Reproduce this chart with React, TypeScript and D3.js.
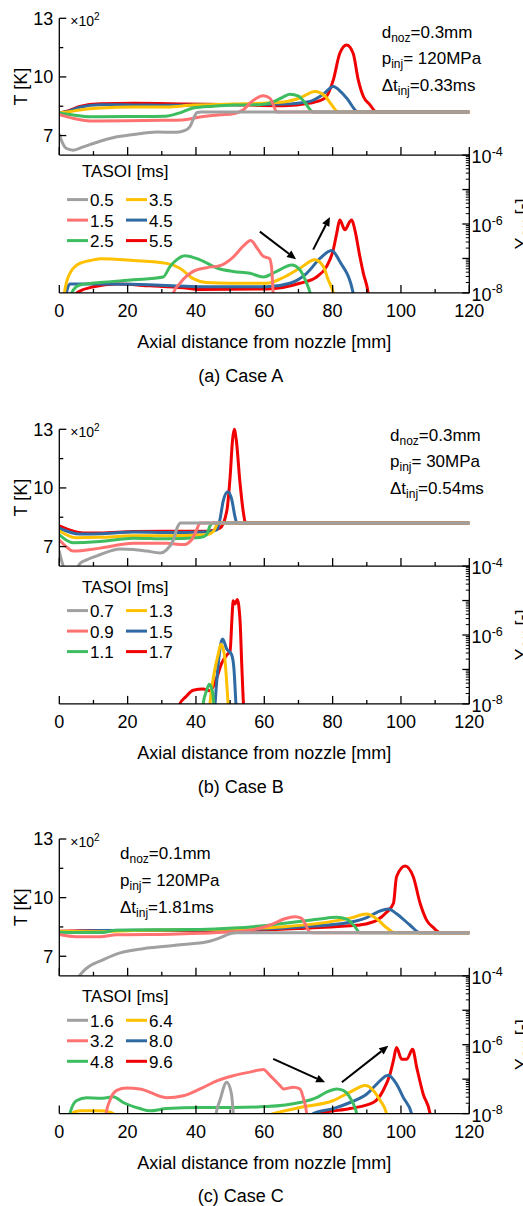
import React from 'react';
import * as d3 from 'd3';

type Pt = [number, number];

// ---------- legend categories & colours ----------
const seriesColors = ['#a0a0a0', '#ff7272', '#3dbd60', '#ffc000', '#2f6aa3', '#f00000'];
const tasoiA = ['0.5', '1.5', '2.5', '3.5', '4.5', '5.5'];
const tasoiB = ['0.7', '0.9', '1.1', '1.3', '1.5', '1.7'];
const tasoiC = ['1.6', '3.2', '4.8', '6.4', '8.0', '9.6'];

// tick labels
const tTickLabels = [700, 1000, 1300];
const xTickLabels = [0, 20, 40, 60, 80, 100, 120];
const yTickExps = [-4, -6, -8];

// ---------- Case A : temperature [K] vs axial distance [mm] ----------
const A_T_05: Pt[] = [[0, 705], [1, 660], [2, 635], [4.1, 625], [7, 642], [11.9, 671], [16, 690], [21.7, 705], [28.5, 718], [34.3, 717], [36.8, 726], [38.3, 748], [39.5, 795], [40.3, 818], [41.5, 820], [120, 820]];
const A_T_15: Pt[] = [[0, 807], [4, 788], [9, 775], [20, 776], [30, 778], [36, 780], [41.2, 795], [47, 806], [50.9, 812], [53.9, 832], [55.8, 866], [59.7, 904], [61.7, 890], [62.7, 855], [63.6, 820], [120, 820]];
const A_T_25: Pt[] = [[0, 815], [4, 805], [9, 796], [20, 797], [31, 799], [35, 815], [39.2, 841], [45, 850], [51, 856], [58.7, 858], [62.6, 872], [65.6, 898], [67.5, 911], [70, 902], [72, 866], [74.3, 820], [120, 820]];
const A_T_35: Pt[] = [[0, 815], [3, 822], [6, 831], [11.9, 841], [21.7, 846], [31.4, 846], [39.2, 856], [50.9, 861], [65.6, 872], [70.4, 892], [74.8, 926], [77.8, 902], [79.6, 860], [81.7, 820], [120, 820]];
const A_T_45: Pt[] = [[0, 815], [3, 826], [6, 845], [11.9, 858], [21.7, 857], [31.4, 855], [41.2, 856], [50.9, 858], [65.6, 861], [73.4, 875], [77.3, 912], [80.2, 951], [82.5, 922], [84.1, 892], [87.5, 820], [120, 820]];
const A_T_55: Pt[] = [[0, 815], [3, 829], [6, 849], [11.9, 863], [21.7, 865], [36.3, 862], [50.9, 858], [65.6, 853], [73.4, 866], [77.8, 892], [80.2, 985], [82.1, 1121], [84.1, 1164], [86.0, 1121], [87.5, 985], [89.0, 900], [90.9, 858], [92.9, 820], [120, 820]];

// ---------- Case A : mass fraction [-] ----------
const A_Y_05: Pt[] = [];
const A_Y_15: Pt[] = [[33.0, 5e-9], [33.4, 1e-8], [35.3, 1.9e-8], [39.2, 4.2e-8], [43.1, 5.4e-8], [47.0, 6.2e-8], [50.9, 1.1e-7], [53.9, 2.3e-7], [56.0, 3.3e-7], [58.2, 1.8e-7], [59.7, 1.15e-7], [61.5, 1.0e-7], [62.1, 5.8e-8], [62.6, 1e-8], [62.8, 5e-9]];
const A_Y_25: Pt[] = [[3.2, 5e-9], [3.6, 1e-8], [6.0, 1.7e-8], [11.9, 2.0e-8], [21.7, 2.4e-8], [30.4, 2.9e-8], [32.4, 5.8e-8], [34.3, 9.1e-8], [36.8, 1.2e-7], [41.2, 9.1e-8], [46.3, 5.2e-8], [50.9, 4.2e-8], [55.8, 3.7e-8], [59.7, 2.9e-8], [63.6, 4.2e-8], [68.0, 6.5e-8], [70.4, 4.7e-8], [72.4, 1.9e-8], [73.4, 1e-8], [74.0, 5e-9]];
const A_Y_35: Pt[] = [[1.2, 5e-9], [1.5, 1e-8], [3.1, 3.7e-8], [6.0, 7.2e-8], [10.0, 9.1e-8], [12.0, 9.8e-8], [21.7, 8.7e-8], [31.4, 7.2e-8], [35.3, 5.2e-8], [39.2, 2.6e-8], [43.0, 2.0e-8], [50.0, 1.9e-8], [60.7, 1.9e-8], [65.6, 2.8e-8], [70.4, 5.2e-8], [74.8, 9.1e-8], [77.3, 5.8e-8], [78.7, 2.4e-8], [80.2, 1e-8], [80.8, 5e-9]];
const A_Y_45: Pt[] = [[1.9, 5e-9], [2.1, 1e-8], [3.1, 1.8e-8], [11.9, 1.8e-8], [31.4, 1.65e-8], [41.2, 1.5e-8], [60.7, 1.5e-8], [67.5, 1.9e-8], [72.4, 3.7e-8], [76.3, 1.0e-7], [79.7, 1.7e-7], [82.1, 8.1e-8], [86.0, 1e-8], [86.4, 5e-9]];
const A_Y_55: Pt[] = [[4.5, 5e-9], [5.1, 1e-8], [10.0, 1.5e-8], [16.8, 1.8e-8], [26.5, 1.6e-8], [36.3, 1.4e-8], [41.2, 1.25e-8], [60.7, 1.3e-8], [70.4, 1.9e-8], [75.3, 2.9e-8], [78.2, 5.8e-8], [80.2, 1.8e-7], [81.2, 5.4e-7], [82.1, 1.3e-6], [83.6, 6.8e-7], [85.1, 1.2e-6], [85.6, 1.3e-6], [86.5, 6.8e-7], [88.0, 1.1e-7], [89.0, 3.7e-8], [90.4, 1e-8], [90.8, 5e-9]];

// ---------- Case B : temperature [K] ----------
const B_T_07: Pt[] = [[0, 675], [0.8, 620], [1.5, 590], [5, 585], [6.0, 612], [8, 632], [11.9, 658], [17.8, 687], [21.7, 685], [25.6, 677], [29.5, 667], [31.4, 683], [33.4, 734], [34.6, 800], [35.5, 820], [120, 820]];
const B_T_09: Pt[] = [[0, 734], [2, 700], [4, 677], [11.9, 692], [21.7, 717], [31.4, 717], [36.3, 710], [38.7, 734], [40.2, 786], [41.2, 820], [120, 820]];
const B_T_11: Pt[] = [[0, 760], [4, 720], [11.9, 726], [21.7, 743], [31.4, 740], [41.2, 746], [43.1, 760], [44.1, 805], [45.0, 820], [120, 820]];
const B_T_13: Pt[] = [[0, 780], [5, 745], [11.9, 747], [21.7, 755], [31.4, 755], [43.1, 760], [45.1, 777], [46.5, 820], [120, 820]];
const B_T_15: Pt[] = [[0, 794], [6, 764], [11.9, 766], [21.7, 774], [31.4, 772], [43.1, 775], [46.1, 786], [47.0, 837], [48.0, 935], [49.3, 981], [50.5, 939], [51.4, 854], [52.0, 820], [120, 820]];
const B_T_17: Pt[] = [[0, 806], [7, 770], [11.9, 770], [21.7, 777], [31.4, 778], [43.1, 778], [47.0, 794], [49.0, 880], [50.0, 1058], [50.7, 1245], [51.2, 1300], [51.8, 1245], [52.9, 1024], [53.9, 871], [54.5, 820], [120, 820]];

// ---------- Case B : mass fraction [-] ----------
const B_Y_07: Pt[] = [];
const B_Y_09: Pt[] = [];
const B_Y_11: Pt[] = [[41.9, 5e-9], [42.1, 1e-8], [43.1, 2.4e-8], [43.9, 3.7e-8], [44.9, 2.1e-8], [45.2, 1e-8], [45.4, 5e-9]];
const B_Y_13: Pt[] = [[43.9, 5e-9], [44.1, 1e-8], [45.1, 5.8e-8], [46.5, 2.75e-7], [47.3, 5.4e-7], [48.3, 2.75e-7], [48.9, 5.8e-8], [49.4, 1e-8], [49.6, 5e-9]];
const B_Y_15: Pt[] = [[45.4, 5e-9], [45.6, 1e-8], [46.5, 1.4e-7], [47.5, 6.8e-7], [47.8, 7.6e-7], [49.0, 3.9e-7], [50.4, 2.75e-7], [51.1, 1.1e-7], [51.7, 1e-8], [51.9, 5e-9]];
const B_Y_17: Pt[] = [[34.8, 5e-9], [35.3, 1e-8], [37.0, 1.6e-8], [39.2, 2.5e-8], [42.1, 2.7e-8], [44.0, 2.4e-8], [46.1, 5.8e-8], [47.5, 1.5e-7], [49.0, 2.6e-7], [50.0, 3.5e-7], [50.5, 2.6e-6], [50.9, 9.8e-6], [51.4, 7.9e-6], [52.1, 1.07e-5], [52.9, 2.6e-6], [53.4, 1.4e-7], [53.9, 1e-8], [54.1, 5e-9]];

// ---------- Case C : temperature [K] ----------
const C_T_16: Pt[] = [[5.0, 580], [7.5, 632], [9, 652], [11.9, 675], [17.8, 717], [26.5, 743], [36.3, 760], [44.0, 777], [47.0, 794], [49.9, 815], [52.0, 820], [120, 820]];
const C_T_32: Pt[] = [[0, 811], [5, 800], [11.9, 800], [16.8, 810], [26.5, 811], [41.2, 818], [51.0, 825], [58.7, 843], [62.6, 866], [66.0, 892], [69.0, 902], [70.9, 894], [73.4, 823], [74.0, 820], [120, 820]];
const C_T_48: Pt[] = [[0, 823], [11.9, 821], [16.8, 833], [31.4, 836], [41.2, 837], [50.9, 844], [60.7, 858], [70.4, 878], [76.3, 891], [81.2, 899], [84.1, 890], [86.5, 852], [88.0, 820], [120, 820]];
const C_T_64: Pt[] = [[0, 828], [11.9, 826], [21.7, 832], [50.9, 839], [65.6, 851], [75.3, 867], [85.1, 895], [90.0, 916], [93.0, 890], [96.0, 843], [98.2, 820], [120, 820]];
const C_T_80: Pt[] = [[0, 823], [11.9, 832], [50.9, 836], [70.4, 850], [85.1, 874], [90.0, 898], [93.0, 925], [96.3, 942], [98.7, 918], [102.6, 860], [105.6, 820], [120, 820]];
const C_T_96: Pt[] = [[0, 828], [11.9, 832], [50.9, 832], [58.7, 834], [70.4, 842], [85.1, 856], [88.0, 860], [93.0, 885], [95.8, 925], [97.8, 971], [98.7, 1107], [101.2, 1162], [103.6, 1107], [105.6, 971], [107.5, 885], [109.5, 846], [111.6, 820], [120, 820]];

// ---------- Case C : mass fraction [-] ----------
const C_Y_16: Pt[] = [[45.7, 5e-9], [45.9, 1e-8], [47.0, 2.4e-8], [49.0, 8.1e-8], [50.4, 3.7e-8], [50.9, 1e-8], [51.1, 5e-9]];
const C_Y_32: Pt[] = [[13.5, 5e-9], [13.7, 1e-8], [14.8, 2.4e-8], [16.8, 4.7e-8], [19.7, 5.5e-8], [23.6, 5.2e-8], [31.4, 2.9e-8], [36.3, 3.3e-8], [41.2, 5.2e-8], [46.3, 9.1e-8], [50.9, 1.26e-7], [55.8, 1.6e-7], [59.7, 1.9e-7], [61.7, 1.26e-7], [64.6, 6.5e-8], [65.6, 5.2e-8], [68.5, 5.8e-8], [70.4, 5.2e-8], [71.4, 2.9e-8], [72.4, 1e-8], [72.6, 5e-9]];
const C_Y_48: Pt[] = [[2.8, 5e-9], [3.1, 1e-8], [5.1, 2.4e-8], [8.0, 2.9e-8], [11.9, 2.8e-8], [13.9, 2.9e-8], [15.8, 3.1e-8], [18.7, 2.1e-8], [23.6, 1.4e-8], [26.5, 1.2e-8], [31.4, 1.4e-8], [41.2, 1.5e-8], [50.9, 1.5e-8], [60.7, 1.6e-8], [70.4, 2.1e-8], [75.3, 2.9e-8], [78.2, 4.2e-8], [81.2, 5.2e-8], [83.1, 4.7e-8], [85.1, 2.9e-8], [86.5, 1.5e-8], [87.0, 1e-8], [87.3, 5e-9]];
const C_Y_64: Pt[] = [[3.3, 5e-9], [3.6, 1e-8], [6.0, 1.2e-8], [11.9, 1.2e-8], [14.8, 1.1e-8], [15.8, 1e-8], [17.0, 7e-9], [58.0, 7e-9], [62.6, 1e-8], [70.4, 1.5e-8], [80.2, 2.4e-8], [85.1, 4.2e-8], [89.5, 6.5e-8], [91.9, 4.7e-8], [93.9, 2.4e-8], [95.8, 1e-8], [96.2, 5e-9]];
const C_Y_80: Pt[] = [[74.0, 5e-9], [74.3, 1e-8], [80.2, 1.4e-8], [85.1, 2.1e-8], [90.0, 3.7e-8], [92.9, 7.2e-8], [96.3, 1.3e-7], [98.7, 7.2e-8], [100.7, 2.9e-8], [103.1, 1e-8], [103.4, 5e-9]];
const C_Y_96: Pt[] = [[76.0, 5e-9], [76.3, 1e-8], [85.1, 1.4e-8], [91.9, 2.1e-8], [94.8, 4.7e-8], [96.8, 1.4e-7], [97.8, 3.5e-7], [98.7, 8.3e-7], [100.2, 3.8e-7], [101.7, 3.8e-7], [103.4, 7.4e-7], [104.6, 2.2e-7], [106.5, 3.7e-8], [108.5, 1e-8], [108.8, 5e-9]];

// annotation arrows [x0 mm, Y0, x1 mm, Y1]
const arrowsA: [number, number, number, number][] = [[58.7, 6.0e-7, 69.3, 9.5e-8], [74.3, 1.8e-7, 79.2, 1.6e-6]];
const arrowsC: [number, number, number, number][] = [[62.6, 3.9e-7, 77.8, 8.1e-8], [82.7, 8.1e-8, 96.3, 9.3e-7]];

// ---------- layout ----------
const FONT = '"Liberation Sans", Arial, Helvetica, sans-serif';
const X0 = 59.3;
const X1 = 469.3;
const T_H = 136.8;
const Y_H = 137.8;
const xScale = d3.scaleLinear().domain([0, 120]).range([X0, X1]);

type PanelProps = {
  id: string;
  top: number;
  title: string;
  tasoi: string[];
  tData: Pt[][];
  yData: Pt[][];
  params: { d: string; p: string; dt: string };
  paramX: number;
  paramY: number;
  legendTitleDy: number;
  arrows: [number, number, number, number][];
};

function Arrow({ x0, y0, x1, y1 }: { x0: number; y0: number; x1: number; y1: number }) {
  const dx = x1 - x0;
  const dy = y1 - y0;
  const len = Math.sqrt(dx * dx + dy * dy);
  const ux = dx / len;
  const uy = dy / len;
  const hl = 9;
  const hw = 4;
  const bx = x1 - ux * hl;
  const by = y1 - uy * hl;
  const pts = [
    [x1, y1],
    [bx - uy * hw, by + ux * hw],
    [bx + uy * hw, by - ux * hw],
  ];
  return (
    <g>
      <line x1={x0} y1={y0} x2={bx} y2={by} stroke="#000" strokeWidth={2} />
      <polygon points={pts.map((p) => p.join(',')).join(' ')} fill="#000" />
    </g>
  );
}

function Panel(props: PanelProps) {
  const { id, top, title, tasoi, tData, yData, params, paramX, paramY, legendTitleDy, arrows } = props;
  const tBot = top + T_H;
  const yBot = tBot + Y_H;
  const yT = d3.scaleLinear().domain([600, 1300]).range([tBot, top]);
  const yL = d3.scaleLog().domain([1e-8, 1e-4]).range([yBot, tBot]);

  const lineT = d3
    .line<Pt>()
    .x((d) => xScale(d[0]))
    .y((d) => yT(d[1]))
    .curve(d3.curveMonotoneX);
  const lineY = d3
    .line<Pt>()
    .x((d) => xScale(d[0]))
    .y((d) => yL(d[1]))
    .curve(d3.curveMonotoneX);

  const order = [5, 4, 3, 2, 1, 0];
  const xTicks = d3.range(0, 121, 10);
  const minorLog: number[] = [];
  for (let e = -8; e < -4; e++) for (let m = 2; m <= 9; m++) minorLog.push(m * Math.pow(10, e));
  const majorLog = [1e-8, 1e-7, 1e-6, 1e-5, 1e-4];

  const legTop = tBot;
  const rowY = [legTop + 45, legTop + 65.5, legTop + 86];

  return (
    <g>
      <defs>
        <clipPath id={`clipT${id}`}>
          <rect x={X0} y={top - 12} width={X1 - X0} height={T_H + 12} />
        </clipPath>
        <clipPath id={`clipY${id}`}>
          <rect x={X0} y={tBot} width={X1 - X0} height={Y_H} />
        </clipPath>
      </defs>

      {/* curves */}
      <g clipPath={`url(#clipT${id})`} fill="none" strokeWidth={3} strokeLinejoin="round" strokeLinecap="round">
        {order.map((i) => (tData[i].length ? <path key={i} d={lineT(tData[i]) || ''} stroke={seriesColors[i]} /> : null))}
      </g>
      <g clipPath={`url(#clipY${id})`} fill="none" strokeWidth={3} strokeLinejoin="round" strokeLinecap="round">
        {order.map((i) => (yData[i].length ? <path key={i} d={lineY(yData[i]) || ''} stroke={seriesColors[i]} /> : null))}
      </g>

      {/* axes */}
      <g stroke="#000" strokeWidth={1.3} fill="none">
        <line x1={X0} y1={top} x2={X0} y2={tBot} />
        <line x1={X0} y1={tBot} x2={X1} y2={tBot} />
        <line x1={X0} y1={yBot} x2={X1} y2={yBot} />
        <line x1={X1} y1={tBot} x2={X1} y2={yBot} />
        {[700, 1000, 1300].map((v) => (
          <line key={'tm' + v} x1={X0} y1={yT(v)} x2={X0 + 7} y2={yT(v)} />
        ))}
        {[850, 1150].map((v) => (
          <line key={'tn' + v} x1={X0} y1={yT(v)} x2={X0 + 4} y2={yT(v)} />
        ))}
        {xTicks.map((v) => {
          const L = v % 20 === 0 ? 8 : 4;
          return (
            <g key={'xt' + v}>
              <line x1={xScale(v)} y1={tBot} x2={xScale(v)} y2={tBot - L} />
              <line x1={xScale(v)} y1={yBot} x2={xScale(v)} y2={yBot - L} />
            </g>
          );
        })}
        {majorLog.map((v) => (
          <line key={'ym' + v} x1={X1} y1={yL(v)} x2={X1 - 7} y2={yL(v)} />
        ))}
        {minorLog.map((v) => (
          <line key={'yn' + v} x1={X1} y1={yL(v)} x2={X1 - 3.5} y2={yL(v)} strokeWidth={1} />
        ))}
      </g>

      <g fontFamily={FONT} fill="#000">
        {/* T tick labels */}
        {tTickLabels.map((v) => (
          <text key={'tl' + v} x={X0 - 6} y={yT(v) + 6.3} fontSize={18} textAnchor="end">
            {v / 100}
          </text>
        ))}
        <text x={X0 + 11} y={top + 7.7} fontSize={14}>
          ×10<tspan fontSize={10} dy={-6}>2</tspan>
        </text>
        <text transform={`translate(27,${(top + tBot) / 2}) rotate(-90)`} fontSize={18} textAnchor="middle">
          T [K]
        </text>

        {/* x tick labels */}
        {xTickLabels.map((v) => (
          <text key={'xl' + v} x={xScale(v)} y={yBot + 24} fontSize={18} textAnchor="middle">
            {v}
          </text>
        ))}
        <text x={(X0 + X1) / 2} y={yBot + 55} fontSize={18} textAnchor="middle">
          Axial distance from nozzle [mm]
        </text>

        {/* Y tick labels */}
        {yTickExps.map((e) => (
          <text key={'yl' + e} x={X1 + 2.3} y={yL(Math.pow(10, e)) + 8} fontSize={18}>
            10<tspan fontSize={12.5} dy={-7.5}>{'-' + Math.abs(e)}</tspan>
          </text>
        ))}
        <text transform={`translate(527.5,${(tBot + yBot) / 2}) rotate(-90)`} fontSize={18} textAnchor="middle">
          Y<tspan fontSize={12} dy={4}>OH</tspan>
          <tspan dy={-4}> [-]</tspan>
        </text>

        {/* parameters */}
        <text x={paramX} y={paramY} fontSize={17}>
          d<tspan fontSize={12} dy={4}>noz</tspan>
          <tspan dy={-4}>={params.d}</tspan>
        </text>
        <text x={paramX} y={paramY + 26.6} fontSize={17}>
          p<tspan fontSize={12} dy={4}>inj</tspan>
          <tspan dy={-4}>= {params.p}</tspan>
        </text>
        <text x={paramX} y={paramY + 53.2} fontSize={17}>
          Δt<tspan fontSize={12} dy={4}>inj</tspan>
          <tspan dy={-4}>={params.dt}</tspan>
        </text>

        {/* legend */}
        <text x={82} y={legTop + legendTitleDy} fontSize={17}>
          TASOI [ms]
        </text>
        {tasoi.map((lab, i) => {
          const col = i < 3 ? 0 : 1;
          const row = i % 3;
          const lx = col === 0 ? 67 : 126;
          const y = rowY[row] + 5;
          return (
            <g key={'lg' + i}>
              <line x1={lx} y1={rowY[row] - 0.5} x2={lx + 21} y2={rowY[row] - 0.5} stroke={seriesColors[i]} strokeWidth={3} />
              <text x={lx + 23} y={y + 1} fontSize={17}>
                {lab}
              </text>
            </g>
          );
        })}

        {/* title */}
        <text x={240.8} y={top + 363.4} fontSize={18} textAnchor="middle">
          {title}
        </text>
      </g>

      {arrows.map((a, i) => (
        <Arrow key={'ar' + i} x0={xScale(a[0])} y0={yL(a[1])} x1={xScale(a[2])} y1={yL(a[3])} />
      ))}
    </g>
  );
}

export default function App() {
  return (
    <svg
      width={523}
      height={1206}
      viewBox="0 0 523 1206"
      style={{ position: 'absolute', left: 0, top: 0, background: '#fff' }}
    >
      <rect x={0} y={0} width={523} height={1206} fill="#fff" />
      <Panel
        id="A"
        top={18.3}
        title="(a) Case A"
        tasoi={tasoiA}
        tData={[A_T_05, A_T_15, A_T_25, A_T_35, A_T_45, A_T_55]}
        yData={[A_Y_05, A_Y_15, A_Y_25, A_Y_35, A_Y_45, A_Y_55]}
        params={{ d: '0.3mm', p: '120MPa', dt: '0.33ms' }}
        paramX={381.7}
        paramY={37.7}
        legendTitleDy={22.3}
        arrows={arrowsA}
      />
      <Panel
        id="B"
        top={429.3}
        title="(b) Case B"
        tasoi={tasoiB}
        tData={[B_T_07, B_T_09, B_T_11, B_T_13, B_T_15, B_T_17]}
        yData={[B_Y_07, B_Y_09, B_Y_11, B_Y_13, B_Y_15, B_Y_17]}
        params={{ d: '0.3mm', p: '30MPa', dt: '0.54ms' }}
        paramX={390}
        paramY={440.7}
        legendTitleDy={26.7}
        arrows={[]}
      />
      <Panel
        id="C"
        top={839.0}
        title="(c) Case C"
        tasoi={tasoiC}
        tData={[C_T_16, C_T_32, C_T_48, C_T_64, C_T_80, C_T_96]}
        yData={[C_Y_16, C_Y_32, C_Y_48, C_Y_64, C_Y_80, C_Y_96]}
        params={{ d: '0.1mm', p: '120MPa', dt: '1.81ms' }}
        paramX={120}
        paramY={859.3}
        legendTitleDy={25.7}
        arrows={arrowsC}
      />
    </svg>
  );
}
